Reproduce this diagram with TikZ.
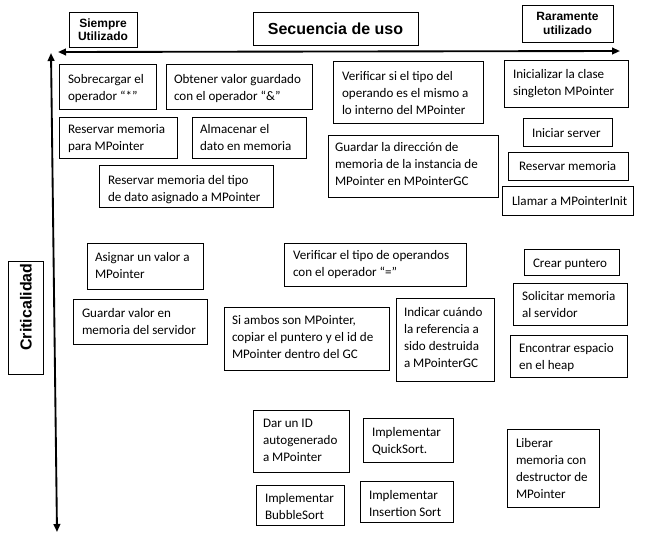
\documentclass[tikz,border=0pt]{standalone}
\usepackage{fontspec}
\setmainfont{Carlito}
\newfontfamily\hdrfont{Liberation Sans}
\usetikzlibrary{arrows.meta}
\newcommand\tl[1]{\begin{tabular}[t]{@{}l@{}}#1\end{tabular}}
\newcommand\bx[8]{%
  \node[box, minimum width={((#4)-(#2))*0.75pt}, minimum height={((#5)-(#3))*0.75pt}, anchor=north west] (#1) at (#2,#3) {};
  \node[txt, anchor=base west] (#1-t) at (#6,#7) {\tl{#8}};}
\newcommand\hb[6]{%
  \node[hdrbox, minimum width={((#4)-(#2))*0.75pt}, minimum height={((#5)-(#3))*0.75pt}, anchor=north west] (#1) at (#2,#3) {};
  \node[hdrtxt] (#1-t) at (#1.center) {#6};}
\tikzset{
  box/.style={draw=black, line width=0.75pt, inner sep=0pt, outer sep=0pt, fill=white},
  hdrbox/.style={draw=black, line width=0.75pt, inner sep=0pt, outer sep=0pt, fill=white},
  txt/.style={inner sep=0pt, outer sep=0pt, font=\fontsize{9.8}{12.8}\selectfont},
  hdrtxt/.style={inner sep=0pt, align=center, font=\hdrfont\bfseries\fontsize{9}{10}\selectfont},
  axis/.style={line width=1.4pt, {Triangle[length=6pt,width=5pt]}-{Triangle[length=6pt,width=5pt]}}
}
\begin{document}
\begin{tikzpicture}[x=0.75pt,y=-0.75pt]
\useasboundingbox[fill=white] (0,0) rectangle (648,543);
% header boxes
\hb{siempre}{69}{12}{137}{47}{Siempre\\Utilizado}
\hb{rara}{522}{5}{613}{42}{Raramente\\utilizado}
\node[hdrbox, minimum width={165*0.75pt}, minimum height={33*0.75pt}, anchor=north west] (sec) at (253,12) {};
\node[inner sep=0pt, font=\hdrfont\bfseries\fontsize{12}{14}\selectfont] (sec-t) at (sec.center) {Secuencia de uso};
\node[hdrbox, minimum width={35*0.75pt}, minimum height={113*0.75pt}, anchor=north west] (crit) at (8,261) {};
\node[inner sep=0pt, rotate=90, font=\hdrfont\bfseries\fontsize{12}{14}\selectfont] (crit-t) at (26,307) {Criticalidad};
% axes
\coordinate (hL) at (58,52);
\coordinate (hR) at (620,51);
\coordinate (vT) at (51,53);
\coordinate (vB) at (57,532);
\draw[axis] (hL) -- (hR);
\draw[axis] (vT) -- (vB);
% boxes
\bx{b1}{59}{64}{156}{109}{68}{83}{Sobrecargar el\\operador “*”}
\bx{b2}{166}{64}{312}{109}{174}{83}{Obtener valor guardado\\con el operador “\&”}
\bx{b3}{59}{117}{177}{158}{68}{133}{Reservar memoria\\para MPointer}
\bx{b4}{192}{117}{306}{158}{200}{133}{Almacenar el\\dato en memoria}
\bx{b5}{99}{165}{273}{207}{108}{184}{Reservar memoria del tipo\\de dato asignado a MPointer}
\bx{b6}{333}{61}{483}{123}{342}{80}{Verificar si el tipo del\\operando es el mismo a\\lo interno del MPointer}
\bx{b7}{328}{135}{498}{197}{335}{151}{Guardar la dirección de\\memoria de la instancia de\\MPointer en MPointerGC}
\bx{b8}{504}{60}{628}{107}{513}{78}{Inicializar la clase\\singleton MPointer}
\bx{b9}{523}{118}{612}{146}{532}{137}{Iniciar server}
\bx{b10}{508}{152}{628}{180}{519}{170}{Reservar memoria}
\bx{b11}{502}{186}{633}{215}{512}{205}{Llamar a MPointerInit}
\bx{b12}{87}{243}{203}{289}{95}{261}{Asignar un valor a\\MPointer}
\bx{b13}{73}{299}{207}{344}{82}{317}{Guardar valor en\\memoria del servidor}
\bx{b14}{284}{243}{466}{286}{293}{259}{Verificar el tipo de operandos\\con el operador “=”}
\bx{b15}{224}{307}{389}{370}{232}{324}{Si ambos son MPointer,\\copiar el puntero y el id de\\MPointer dentro del GC}
\bx{b16}{396}{298}{494}{381}{404}{316}{Indicar cuándo\\la referencia a\\sido destruida\\a MPointerGC}
\bx{b17}{524}{249}{619}{275}{533}{267}{Crear puntero}
\bx{b18}{513}{283}{627}{325}{522}{300}{Solicitar memoria\\al servidor}
\bx{b19}{510}{335}{627}{377}{519}{352}{Encontrar espacio\\en el heap}
\bx{b20}{253}{410}{349}{472}{263}{427}{Dar un ID\\autogenerado\\a MPointer}
\bx{b21}{363}{418}{453}{462}{372}{436}{Implementar\\QuickSort.}
\bx{b22}{256}{485}{344}{525}{265}{502}{Implementar\\BubbleSort}
\bx{b23}{360}{481}{453}{522}{369}{499}{Implementar\\Insertion Sort}
\bx{b24}{507}{429}{599}{507}{516}{447}{Liberar\\memoria con\\destructor de\\MPointer}
\end{tikzpicture}
\end{document}
